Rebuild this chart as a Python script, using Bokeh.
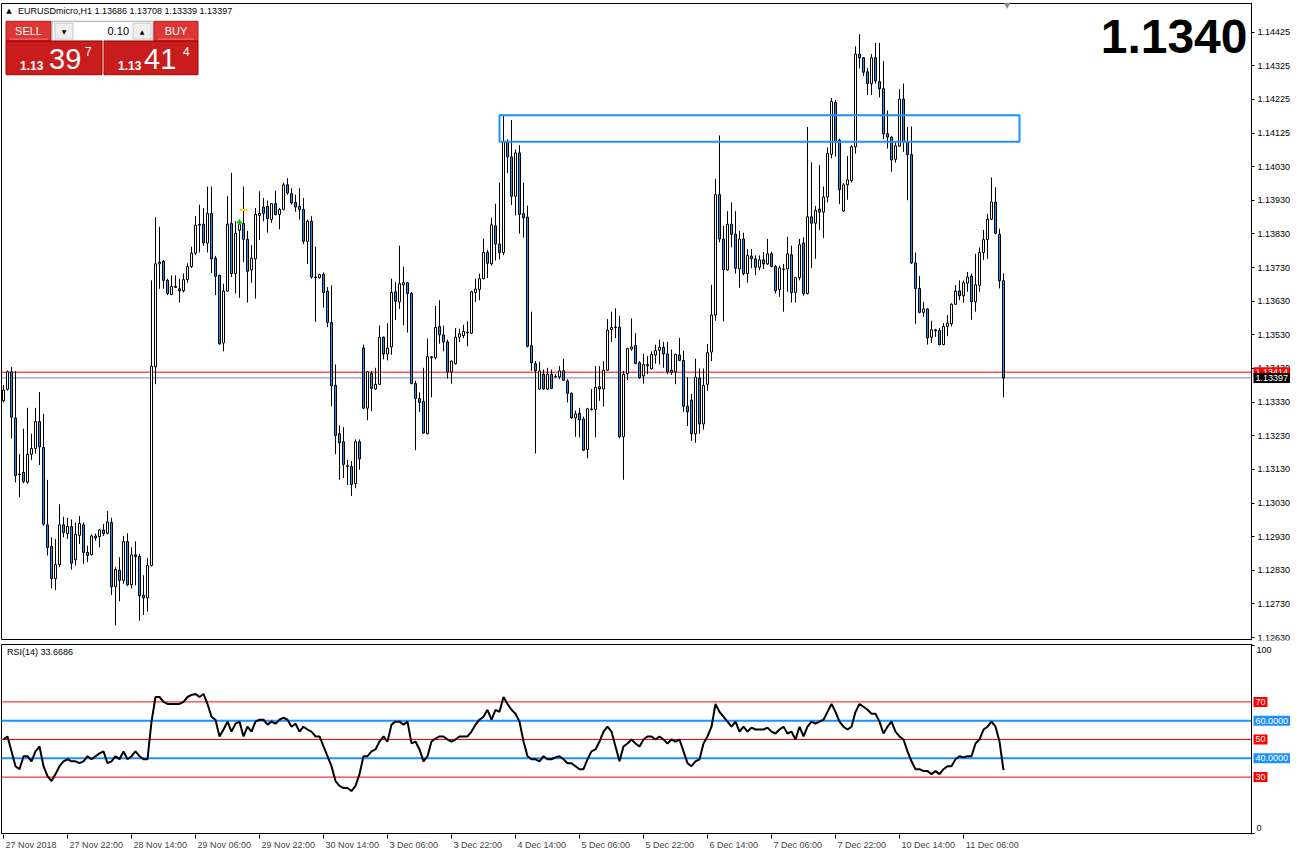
from bokeh.plotting import figure
from bokeh.models import Range1d, FixedTicker, Label, ColumnDataSource, LinearAxis
from bokeh.layouts import column
from bokeh.embed import file_html
from bokeh.resources import INLINE

# ---------------- data ----------------
opens = [1.13329,1.13363,1.13415,1.13278,1.13111,1.13116,1.13087,1.13170,1.13187,1.13267,
1.13190,1.12960,1.12896,1.12800,1.12842,1.12960,1.12934,1.12955,1.12856,1.12929,
1.12960,1.12878,1.12872,1.12927,1.12925,1.12945,1.12935,1.12967,1.12776,1.12825,
1.12795,1.12910,1.12782,1.12871,1.12866,1.12751,1.12743,1.12839,1.13430,1.13736,
1.13744,1.13687,1.13645,1.13669,1.13662,1.13656,1.13689,1.13728,1.13768,1.13851,
1.13854,1.13798,1.13886,1.13753,1.13702,1.13501,1.13655,1.13856,1.13707,1.13836,
1.13856,1.13809,1.13718,1.13751,1.13880,1.13905,1.13907,1.13868,1.13915,1.13883,
1.13898,1.13971,1.13945,1.13919,1.13907,1.13898,1.13803,1.13863,1.13697,1.13695,
1.13705,1.13655,1.13562,1.13375,1.13231,1.13207,1.13136,1.13134,1.13083,1.13207,
1.13486,1.13307,1.13410,1.13364,1.13378,1.13518,1.13468,1.13489,1.13653,1.13623,
1.13674,1.13680,1.13648,1.13380,1.13336,1.13327,1.13231,1.13457,1.13457,1.13550,
1.13525,1.13504,1.13415,1.13439,1.13518,1.13523,1.13531,1.13530,1.13651,1.13660,
1.13692,1.13770,1.13736,1.13849,1.13795,1.13770,1.14099,1.14054,1.13937,1.14066,
1.13886,1.13875,1.13493,1.13439,1.13364,1.13408,1.13364,1.13408,1.13401,1.13400,
1.13418,1.13388,1.13351,1.13278,1.13292,1.13275,1.13184,1.13303,1.13303,1.13371,
1.13364,1.13420,1.13541,1.13547,1.13548,1.13222,1.13410,1.13483,1.13493,1.13442,
1.13403,1.13433,1.13424,1.13465,1.13479,1.13488,1.13468,1.13420,1.13415,1.13465,
1.13449,1.13313,1.13331,1.13231,1.13396,1.13260,1.13378,1.13474,1.13584,1.13942,
1.13810,1.13718,1.13854,1.13824,1.13721,1.13810,1.13707,1.13759,1.13751,1.13726,
1.13748,1.13736,1.13766,1.13728,1.13660,1.13719,1.13721,1.13763,1.13651,1.13695,
1.13798,1.13648,1.13876,1.13857,1.13899,1.13890,1.13935,1.14062,1.14216,1.14104,
1.13893,1.13971,1.13984,1.14084,1.14360,1.14349,1.14307,1.14272,1.14349,1.14278,
1.14257,1.14123,1.14113,1.14047,1.14086,1.14226,1.14099,1.14061,1.13739,1.13663,
1.13592,1.13602,1.13518,1.13537,1.13538,1.13496,1.13550,1.13558,1.13616,1.13656,
1.13641,1.13679,1.13700,1.13623,1.13672,1.13770,1.13808,1.13869,1.13920,1.13824,
1.13686]
highs = [1.13376,1.13419,1.13429,1.13417,1.13170,1.13246,1.13308,1.13231,1.13308,1.13355,
1.13290,1.13094,1.12923,1.12918,1.13021,1.12984,1.12981,1.12976,1.12967,1.12986,
1.12967,1.12898,1.12932,1.12934,1.12947,1.12962,1.13001,1.12981,1.12834,1.12864,
1.12927,1.12935,1.12893,1.12911,1.12874,1.12810,1.12862,1.13687,1.13875,1.13846,
1.13748,1.13692,1.13702,1.13702,1.13692,1.13707,1.13738,1.13787,1.13878,1.13912,
1.13902,1.13966,1.13966,1.13760,1.13704,1.13677,1.13937,1.14007,1.13863,1.13868,
1.13966,1.13834,1.13792,1.13902,1.13952,1.13932,1.13924,1.13915,1.13954,1.13902,
1.13978,1.13991,1.13961,1.13942,1.13961,1.13932,1.13868,1.13878,1.13787,1.13707,
1.13711,1.13667,1.13672,1.13437,1.13256,1.13251,1.13153,1.13150,1.13214,1.13214,
1.13496,1.13418,1.13418,1.13427,1.13553,1.13520,1.13560,1.13692,1.13682,1.13790,
1.13728,1.13682,1.13653,1.13388,1.13354,1.13427,1.13514,1.13462,1.13611,1.13628,
1.13552,1.13511,1.13449,1.13545,1.13543,1.13555,1.13566,1.13656,1.13692,1.13707,
1.13811,1.13778,1.13873,1.13915,1.13978,1.14180,1.14106,1.14164,1.14076,1.14089,
1.13978,1.13909,1.13594,1.13447,1.13445,1.13422,1.13427,1.13422,1.13408,1.13432,
1.13454,1.13393,1.13354,1.13300,1.13308,1.13282,1.13308,1.13364,1.13432,1.13432,
1.13447,1.13572,1.13594,1.13604,1.13582,1.13418,1.13486,1.13574,1.13530,1.13447,
1.13469,1.13462,1.13476,1.13496,1.13511,1.13504,1.13504,1.13481,1.13469,1.13516,
1.13478,1.13399,1.13349,1.13454,1.13425,1.13425,1.13498,1.13674,1.13989,1.14118,
1.13849,1.13893,1.13919,1.13893,1.13834,1.13829,1.13780,1.13780,1.13761,1.13761,
1.13771,1.13810,1.13772,1.13733,1.13731,1.13736,1.13817,1.13790,1.13697,1.13810,
1.13815,1.14143,1.14038,1.13908,1.14030,1.13966,1.14082,1.14229,1.14223,1.14108,
1.13976,1.14057,1.14089,1.14383,1.14419,1.14351,1.14319,1.14360,1.14393,1.14393,
1.14339,1.14192,1.14115,1.14099,1.14256,1.14272,1.14143,1.14145,1.13770,1.13700,
1.13623,1.13604,1.13567,1.13543,1.13545,1.13560,1.13584,1.13619,1.13673,1.13687,
1.13687,1.13712,1.13707,1.13766,1.13785,1.13837,1.13885,1.13993,1.13964,1.13841,
1.13708]
lows = [1.13324,1.13359,1.13217,1.13086,1.13042,1.13084,1.13082,1.13153,1.13172,1.13138,
1.12957,1.12869,1.12771,1.12766,1.12834,1.12923,1.12918,1.12827,1.12839,1.12903,
1.12844,1.12849,1.12869,1.12913,1.12893,1.12927,1.12932,1.12751,1.12661,1.12733,
1.12785,1.12778,1.12771,1.12780,1.12675,1.12692,1.12702,1.12836,1.13378,1.13662,
1.13662,1.13643,1.13643,1.13664,1.13621,1.13651,1.13680,1.13724,1.13762,1.13770,
1.13790,1.13770,1.13709,1.13643,1.13496,1.13476,1.13653,1.13697,1.13648,1.13635,
1.13741,1.13621,1.13680,1.13633,1.13807,1.13863,1.13829,1.13858,1.13880,1.13839,
1.13895,1.13942,1.13912,1.13891,1.13868,1.13795,1.13736,1.13692,1.13564,1.13692,
1.13606,1.13548,1.13313,1.13170,1.13094,1.13099,1.13078,1.13046,1.13069,1.13124,
1.13305,1.13271,1.13298,1.13361,1.13376,1.13452,1.13449,1.13466,1.13569,1.13602,
1.13553,1.13532,1.13378,1.13182,1.13295,1.13231,1.13229,1.13339,1.13452,1.13499,
1.13476,1.13395,1.13380,1.13437,1.13504,1.13515,1.13491,1.13527,1.13623,1.13628,
1.13690,1.13694,1.13731,1.13746,1.13749,1.13762,1.14006,1.13911,1.13880,1.13826,
1.13814,1.13488,1.13418,1.13172,1.13362,1.13362,1.13361,1.13364,1.13398,1.13393,
1.13388,1.13324,1.13275,1.13222,1.13220,1.13180,1.13158,1.13300,1.13220,1.13329,
1.13312,1.13418,1.13504,1.13515,1.13217,1.13094,1.13390,1.13478,1.13437,1.13395,
1.13380,1.13408,1.13422,1.13439,1.13437,1.13427,1.13408,1.13406,1.13378,1.13447,
1.13296,1.13254,1.13210,1.13204,1.13231,1.13243,1.13359,1.13447,1.13567,1.13800,
1.13565,1.13716,1.13785,1.13707,1.13665,1.13702,1.13680,1.13723,1.13702,1.13717,
1.13721,1.13733,1.13726,1.13648,1.13638,1.13594,1.13653,1.13621,1.13621,1.13687,
1.13641,1.13645,1.13723,1.13751,1.13837,1.13813,1.13919,1.14050,1.14055,1.13914,
1.13891,1.13927,1.13978,1.14064,1.14317,1.14295,1.14238,1.14238,1.14272,1.14231,
1.14107,1.14079,1.14010,1.14037,1.14084,1.14069,1.13925,1.13736,1.13557,1.13589,
1.13579,1.13496,1.13501,1.13519,1.13494,1.13494,1.13521,1.13550,1.13614,1.13628,
1.13620,1.13653,1.13570,1.13594,1.13653,1.13748,1.13751,1.13866,1.13824,1.13663,
1.13339]
closes = [1.13361,1.13415,1.13280,1.13107,1.13109,1.13089,1.13170,1.13187,1.13267,1.13192,
1.12962,1.12893,1.12800,1.12842,1.12960,1.12937,1.12955,1.12846,1.12932,1.12964,
1.12878,1.12869,1.12927,1.12921,1.12945,1.12934,1.12969,1.12776,1.12827,1.12795,
1.12910,1.12782,1.12871,1.12866,1.12749,1.12743,1.12839,1.13432,1.13736,1.13741,
1.13687,1.13648,1.13669,1.13666,1.13656,1.13689,1.13728,1.13768,1.13851,1.13854,
1.13798,1.13886,1.13751,1.13699,1.13498,1.13655,1.13854,1.13707,1.13827,1.13854,
1.13809,1.13714,1.13753,1.13883,1.13886,1.13886,1.13871,1.13915,1.13883,1.13898,
1.13971,1.13947,1.13917,1.13905,1.13898,1.13803,1.13863,1.13697,1.13695,1.13704,
1.13651,1.13562,1.13373,1.13226,1.13204,1.13140,1.13134,1.13080,1.13207,1.13156,
1.13307,1.13415,1.13366,1.13378,1.13518,1.13468,1.13486,1.13651,1.13625,1.13677,
1.13680,1.13648,1.13380,1.13336,1.13324,1.13233,1.13460,1.13460,1.13547,1.13525,
1.13504,1.13415,1.13447,1.13518,1.13528,1.13535,1.13533,1.13653,1.13661,1.13692,
1.13770,1.13738,1.13852,1.13795,1.13770,1.14099,1.14054,1.13937,1.14066,1.13883,
1.13873,1.13491,1.13442,1.13418,1.13418,1.13364,1.13408,1.13366,1.13400,1.13418,
1.13390,1.13351,1.13278,1.13290,1.13272,1.13182,1.13305,1.13305,1.13369,1.13364,
1.13420,1.13539,1.13547,1.13548,1.13222,1.13408,1.13484,1.13489,1.13440,1.13398,
1.13437,1.13437,1.13467,1.13478,1.13488,1.13468,1.13415,1.13413,1.13467,1.13449,
1.13313,1.13296,1.13231,1.13399,1.13260,1.13375,1.13472,1.13584,1.13942,1.13810,
1.13718,1.13854,1.13824,1.13723,1.13810,1.13707,1.13761,1.13751,1.13726,1.13748,
1.13736,1.13766,1.13728,1.13656,1.13724,1.13721,1.13766,1.13651,1.13695,1.13793,
1.13648,1.13876,1.13857,1.13895,1.13890,1.13935,1.14064,1.14219,1.14099,1.13957,
1.13971,1.13986,1.14084,1.14360,1.14349,1.14306,1.14272,1.14349,1.14280,1.14257,
1.14123,1.14113,1.14045,1.14087,1.14226,1.14099,1.14061,1.13739,1.13663,1.13592,
1.13602,1.13516,1.13540,1.13540,1.13496,1.13550,1.13560,1.13616,1.13655,1.13641,
1.13680,1.13697,1.13623,1.13674,1.13770,1.13808,1.13869,1.13920,1.13827,1.13686,
1.13397]
rsi = [50.0,51.6,43.7,35.8,34.2,41.1,41.1,38.4,43.7,46.3,
35.8,30.5,27.9,31.6,35.8,38.4,39.5,38.4,38.4,37.4,
38.4,41.1,39.5,41.1,42.6,43.7,37.4,38.4,41.1,39.5,
43.7,39.5,41.1,43.7,41.1,39.5,39.5,59.5,72.6,72.6,
70.0,68.9,68.9,68.9,68.9,70.0,72.6,73.7,74.2,72.6,
74.2,68.9,62.1,60.5,51.6,55.3,59.5,54.2,58.4,59.5,
51.6,56.8,54.2,59.5,60.5,60.5,57.9,59.5,58.4,60.5,
61.6,60.5,56.8,58.4,54.2,56.8,55.3,54.2,51.6,51.6,
46.3,41.1,35.8,27.9,25.3,24.2,24.2,22.6,25.3,31.6,
41.1,41.1,43.7,44.7,48.9,51.6,48.9,57.9,59.5,59.5,
57.9,59.5,47.9,48.9,44.7,38.4,41.1,48.9,50.5,51.6,
51.6,50.0,48.9,50.0,51.6,51.6,51.6,54.2,57.9,60.5,
62.1,65.8,60.5,65.8,64.7,72.6,68.9,65.8,63.7,59.5,
48.9,41.1,39.5,39.5,38.4,41.1,39.5,39.5,40.5,41.1,
39.5,37.4,37.4,35.8,34.2,34.2,39.5,43.7,44.7,48.9,
54.2,56.8,54.2,46.3,38.4,46.3,47.9,50.0,47.9,46.3,
50.0,51.6,51.6,50.0,51.6,50.0,47.9,50.0,48.9,50.0,
43.7,37.4,35.8,38.4,39.5,47.9,51.6,56.8,68.9,64.7,
62.1,59.5,56.8,59.5,54.2,56.8,54.2,56.3,55.3,55.3,
55.3,56.3,54.2,53.2,55.3,56.8,53.2,54.2,50.0,56.8,
51.6,56.8,59.5,58.4,59.5,60.5,64.7,68.9,64.7,59.5,
56.8,55.3,56.8,64.7,68.9,67.4,65.8,63.7,63.7,59.5,
53.2,56.8,59.5,54.2,51.6,50.0,43.7,38.4,34.2,34.2,
33.2,33.2,31.6,33.2,31.6,34.2,35.8,35.8,39.5,41.1,
40.5,41.1,41.1,47.9,50.0,55.3,56.8,59.5,56.8,48.9,
33.7]

date_labels = ["27 Nov 2018", "27 Nov 22:00", "28 Nov 14:00", "29 Nov 06:00", "29 Nov 22:00",
               "30 Nov 14:00", "3 Dec 06:00", "3 Dec 22:00", "4 Dec 14:00", "5 Dec 06:00",
               "5 Dec 22:00", "6 Dec 14:00", "7 Dec 06:00", "7 Dec 22:00", "10 Dec 14:00",
               "11 Dec 06:00"]
price_tick_values = [1.14425, 1.14325, 1.14225, 1.14125, 1.14025, 1.13925, 1.13825, 1.13725,
                     1.13625, 1.13525, 1.13425, 1.13325, 1.13225, 1.13125, 1.13025, 1.12925,
                     1.12825, 1.12725, 1.12625]
price_tick_labels = ["1.14425", "1.14325", "1.14225", "1.14125", "1.14030", "1.13930", "1.13830",
                     "1.13730", "1.13630", "1.13530", "1.13430", "1.13330", "1.13230", "1.13130",
                     "1.13030", "1.12930", "1.12830", "1.12730", "1.12630"]
ask_price = 1.13414
bid_price = 1.13397
zone_left, zone_right = 125, 255
zone_bottom, zone_top = 1.14099, 1.14178
trade_index, trade_price = [60], [1.13859]      # green trade arrow
level_index, level_price = [61], [1.13896]      # yellow level dash
rsi_levels_red = [70, 50, 30]
rsi_levels_blue = [60, 40]
rsi_last = 33.6686
big_price_text = "1.1340"
header_text = "EURUSDmicro,H1  1.13686 1.13708 1.13339 1.13397"

# ---------------- layout helpers ----------------
TW = 1291            # total width (frame covers everything)
PH, RH = 638, 191    # frame heights
X0 = 0.25
X1 = X0 + TW / 4.0
AXC = 1251           # canvas x of the price axis line
BLUE = "#1E90FF"
FONT = "Liberation Sans"
P_TOP = 1.14425 + 30 / 34000.0
P_BOT = 1.14425 - 615 / 34000.0
R_TOP = (843 - 651) / 1.9
R_BOT = (843 - 844) / 1.9


def cx(c):    # canvas x -> data x
    return X0 + c / 4.0


def xr(px):   # reference-picture x -> data x
    return cx(px - 2.5)


def yp(py):   # reference-picture y -> price
    return 1.14425 - (py - 34) / 34000.0


def cyp(c):   # frame y (price panel) -> price
    return P_TOP - c * (P_TOP - P_BOT) / PH


def yr(py):   # reference-picture y -> rsi
    return (843 - py) / 1.9


def cyr(c):   # frame y (rsi panel) -> rsi
    return R_TOP - c * (R_TOP - R_BOT) / RH


AX = cx(AXC)
LABEL_PAD = {"padding": 2} if "padding" in Label.properties() else {}

n = len(closes)
idx = list(range(1, n + 1))
src = ColumnDataSource(dict(
    x=idx, o=opens, h=highs, l=lows, c=closes,
    top=[max(a, b) for a, b in zip(opens, closes)],
    bot=[min(a, b) for a, b in zip(opens, closes)],
    col=["white" if c >= o else BLUE for o, c in zip(opens, closes)],
))


def lab(fig, x, y, text, size, color="black", align="left", base="middle", bold=False,
        font=FONT, **kw):
    fig.add_layout(Label(x=x, y=y, text=text, text_font=font, text_font_size=size,
                         text_color=color, text_align=align, text_baseline=base,
                         text_font_style="bold" if bold else "normal", **kw))


# ---------------- price panel ----------------
p = figure(frame_width=TW, frame_height=PH, x_range=Range1d(X0, X1),
           y_range=Range1d(P_BOT, P_TOP), output_backend="svg", toolbar_location=None,
           min_border_left=0, min_border_right=0, min_border_top=2, min_border_bottom=3,
           x_axis_location=None, y_axis_location=None)
p.grid.visible = False
p.outline_line_color = None
p.background_fill_color = "white"
p.border_fill_color = "white"

ya = LinearAxis(fixed_location=AX)
ya.ticker = FixedTicker(ticks=price_tick_values)
ya.major_label_overrides = {v: s for v, s in zip(price_tick_values, price_tick_labels)}
ya.major_tick_out = 3
ya.major_tick_in = 0
ya.minor_tick_out = 0
ya.minor_tick_in = 0
ya.major_label_standoff = 3
ya.major_label_text_font = FONT
ya.major_label_text_font_size = "9px"
ya.major_label_text_color = "black"
ya.axis_line_color = "black"
p.add_layout(ya, "right")

# chart box
p.quad(left=[cx(1)], right=[AX], top=[cyp(1)], bottom=[cyp(PH - 1)],
       fill_color=None, line_color="black", line_width=1)

# ask / bid lines
p.segment(x0=[cx(1), cx(1)], x1=[AX, AX], y0=[ask_price, bid_price], y1=[ask_price, bid_price],
          line_color=["red", "#778899"], line_width=1)

# candles
p.segment(x0="x", y0="l", x1="x", y1="h", source=src, line_color="black", line_width=1)
p.vbar(x="x", width=0.5, top="top", bottom="bot", source=src, fill_color="col",
       line_color="black", line_width=1)

# trade markers
p.scatter(level_index, level_price, marker="dash", size=8, line_color="#FFD700", line_width=2)
p.scatter(trade_index, trade_price, marker="cross", size=5, line_color="#00C000", line_width=2)

# zone rectangle
p.quad(left=[zone_left], right=[zone_right], top=[zone_top], bottom=[zone_bottom],
       fill_color=None, line_color=BLUE, line_width=2)

# one-click trading panel
panel_boxes = [  # (l, r, t, b, fill, line) in reference pixels
    (8, 53, 23, 43, "#DE3535", "#B41818"),
    (54, 155, 23, 43, "white", "#A8A8A8"),
    (57, 75, 25, 41, "#EFEFEF", "#C8C8C8"),
    (135, 153, 25, 41, "#EFEFEF", "#C8C8C8"),
    (156, 200, 23, 43, "#DE3535", "#B41818"),
    (8, 104, 43, 77, "#C91C1C", "#A50000"),
    (106, 200, 43, 77, "#C91C1C", "#A50000"),
]
p.quad(left=[xr(b[0]) for b in panel_boxes], right=[xr(b[1]) for b in panel_boxes],
       top=[yp(b[2]) for b in panel_boxes], bottom=[yp(b[3]) for b in panel_boxes],
       fill_color=[b[4] for b in panel_boxes], line_color=[b[5] for b in panel_boxes],
       line_width=1)
p.segment(x0=[xr(12), xr(160)], x1=[xr(50), xr(196)], y0=[yp(41), yp(41)], y1=[yp(41), yp(41)],
          line_color="#F27A7A", line_width=1)

lab(p, xr(11), yp(13), "\u25B2", "7px", font="DejaVu Sans", align="center")
lab(p, xr(20), yp(13), header_text, "9px")
lab(p, xr(30.5), yp(33), "SELL", "11px", color="white", align="center")
lab(p, xr(178), yp(33), "BUY", "11px", color="white", align="center")
lab(p, xr(131), yp(33), "0.10", "11px", align="right")
lab(p, xr(66), yp(33), "\u25BC", "6px", font="DejaVu Sans", align="center")
lab(p, xr(144), yp(33), "\u25B2", "6px", font="DejaVu Sans", align="center")
lab(p, xr(22), yp(68), "1.13", "12px", color="white", bold=True)
lab(p, xr(51), yp(61), "39", "29px", color="white")
lab(p, xr(87), yp(54), "7", "12px", color="white")
lab(p, xr(120), yp(68), "1.13", "12px", color="white", bold=True)
lab(p, xr(146), yp(61), "41", "29px", color="white")
lab(p, xr(185), yp(54), "4", "12px", color="white")

lab(p, cx(AXC - 4), yp(38), big_price_text, "48px", align="right", bold=True)
lab(p, xr(1009), cyp(3), "\u25BC", "8px", color="#7A8AA0", font="DejaVu Sans", align="center")

# price tags on the axis
lab(p, AX, ask_price, "1.13414", "9px", color="white", background_fill_color="red",
    x_offset=2, **LABEL_PAD)
lab(p, AX, bid_price, "1.13397", "9px", color="white", background_fill_color="black",
    x_offset=2, **LABEL_PAD)

# ---------------- RSI panel ----------------
r = figure(frame_width=TW, frame_height=RH, x_range=p.x_range,
           y_range=Range1d(R_BOT, R_TOP), output_backend="svg", toolbar_location=None,
           min_border_left=0, min_border_right=0, min_border_top=0, min_border_bottom=0,
           x_axis_location="below", y_axis_location=None)
r.grid.visible = False
r.outline_line_color = None
r.background_fill_color = "white"
r.border_fill_color = "white"

ra = LinearAxis(fixed_location=AX)
ra.ticker = FixedTicker(ticks=[0, 100])
ra.major_label_overrides = {0: "", 100: ""}
ra.major_tick_out = 3
ra.major_tick_in = 0
ra.minor_tick_out = 0
ra.minor_tick_in = 0
ra.axis_line_color = "black"
r.add_layout(ra, "right")

# date axis: labels on (invisible) major ticks placed right of the real tick marks
CW = {" ": 2.5, ":": 2.5, "N": 6.5, "o": 5.0, "v": 4.5, "D": 6.5, "e": 5.0, "c": 4.5}


def est_w(s):
    return sum(CW.get(ch, 5.0) for ch in s)


date_ticks = [1 + 16 * i for i in range(len(date_labels))]
label_ticks = [t + (est_w(s) / 2.0 + 2.0) / 4.0 for t, s in zip(date_ticks, date_labels)]
xa = r.xaxis[0]
xa.ticker = FixedTicker(ticks=label_ticks, minor_ticks=date_ticks)
xa.major_label_overrides = {t: s for t, s in zip(label_ticks, date_labels)}
xa.major_tick_out = 4
xa.major_tick_in = 0
xa.major_tick_line_color = None
xa.minor_tick_out = 4
xa.minor_tick_in = 0
xa.minor_tick_line_color = "black"
xa.major_label_standoff = 1
xa.major_label_text_font = FONT
xa.major_label_text_font_size = "9px"
xa.axis_line_color = None

r.quad(left=[cx(1)], right=[AX], top=[cyr(1)], bottom=[cyr(RH - 1)],
       fill_color=None, line_color="black", line_width=1)

r.segment(x0=[cx(1)] * 3, x1=[AX] * 3, y0=rsi_levels_red, y1=rsi_levels_red,
          line_color="red", line_width=1)
r.segment(x0=[cx(1)] * 2, x1=[AX] * 2, y0=rsi_levels_blue, y1=rsi_levels_blue,
          line_color=BLUE, line_width=2)

r.line(idx, rsi, line_color="black", line_width=2)

lab(r, xr(9), yr(660), "RSI(14) %.4f" % rsi_last, "9px")
lab(r, AX, yr(658), "100", "9px", x_offset=5)
lab(r, AX, yr(837), "0", "9px", x_offset=5)
for lv in rsi_levels_red:
    lab(r, AX, lv, str(lv), "9px", color="white", background_fill_color="red", x_offset=2,
        **LABEL_PAD)
for lv in rsi_levels_blue:
    lab(r, AX, lv, "%.4f" % lv, "9px", color="white", background_fill_color=BLUE, x_offset=2,
        **LABEL_PAD)

layout = column(p, r, spacing=0)
open("out.html", "w").write(file_html(layout, INLINE))
